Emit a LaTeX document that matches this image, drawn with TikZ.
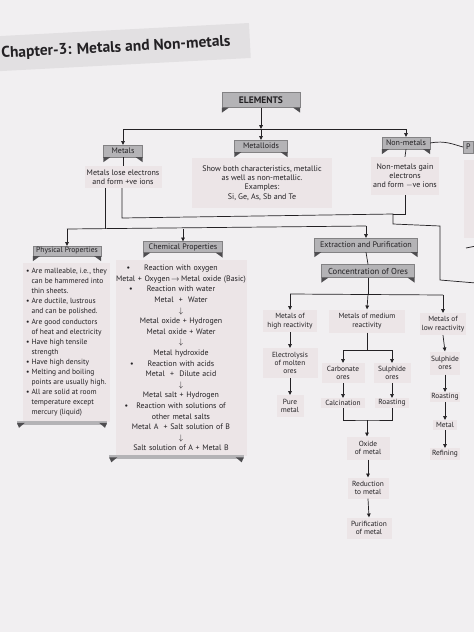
\documentclass[tikz,border=0pt]{standalone}
\usepackage{fontspec}
\setmainfont{PT Sans}
\usetikzlibrary{arrows.meta,calc}
\definecolor{pagebg}{RGB}{241,239,241}
\definecolor{bandbg}{RGB}{226,224,226}
\definecolor{bannerfill}{RGB}{180,179,182}
\definecolor{bannerdark}{RGB}{78,77,80}
\definecolor{descfill}{RGB}{236,229,231}
\definecolor{ink}{RGB}{35,33,36}
\newcommand\ribbon[1]{%
  \fill[bannerdark] (#1.south west) -- ++(7,0) -- ++(-7,5) -- cycle;
  \fill[bannerdark] (#1.south east) -- ++(-7,0) -- ++(7,5) -- cycle;}
\newcommand\scrollbar[1]{%
  \fill[bannerfill] ($(#1.south west)+(-6,-1)$) rectangle ($(#1.south east)+(-3,3)$);
  \fill[bannerdark] ($(#1.south west)+(-6,1)$) -- ++(8,0) -- ++(-6,5) -- cycle;
  \fill[bannerdark] ($(#1.south east)+(-3,1)$) -- ++(-8,0) -- ++(6,5) -- cycle;}
\newcommand\bul[1]{\leavevmode\llap{\textbullet\hspace{#1}}}
\begin{document}
\begin{tikzpicture}[x=1pt,y=-1pt,
  every node/.style={text=ink},
  banner/.style={fill=bannerfill, draw=bannerdark!70, line width=0.4pt, inner xsep=3pt, inner ysep=1.5pt, font=\fontsize{8}{9}\selectfont},
  desc/.style={fill=descfill, align=center, inner sep=2pt, font=\fontsize{8}{9.4}\selectfont},
  small/.style={fill=descfill, align=center, inner sep=1.5pt, font=\fontsize{7.4}{8.4}\selectfont},
  conn/.style={draw=ink, line width=0.7pt},
  arr/.style={conn, -{Triangle[length=3.8pt,width=3.6pt]}},
]
\useasboundingbox (0,0) rectangle (474,632);
\fill[pagebg] (0,0) rectangle (474,632);
% title
\fill[bandbg, rotate around={3:(116,47)}] (-10,30) rectangle (250,65);
\node[font=\bfseries\fontsize{15.5}{17}\selectfont, rotate=3] (title) at (116,48) {Chapter-3: Metals and Non-metals};

% level 0/1
\node[banner, font=\bfseries\fontsize{9.5}{11}\selectfont, minimum width=78, minimum height=15] (elem) at (261,100) {ELEMENTS};
\ribbon{elem}
\node[banner, minimum width=39, minimum height=12] (metals) at (123,151) {Metals};
\ribbon{metals}
\node[banner, minimum width=53, minimum height=12] (metalloids) at (261,146) {Metalloids};
\ribbon{metalloids}
\node[banner, minimum width=48, minimum height=12] (nonmetals) at (406,143) {Non-metals};
\ribbon{nonmetals}

\node[desc, minimum width=77, minimum height=22] (metalsd) at (123,177) {Metals lose electrons\\and form +ve ions};
\node[desc, minimum width=140, minimum height=50] (metalloidsd) at (262,183) {Show both characteristics, metallic\\as well as non-metallic.\\Examples:\\Si, Ge, As, Sb and Te};
\node[desc, minimum width=68, minimum height=38] (nonmetalsd) at (405,176) {Non-metals gain\\electrons\\and form $-$ve ions};

\coordinate (jtop) at (261,129);
\draw[arr] (elem.south) -- (jtop);
\draw[arr] (jtop) -- (metalloids.north);
\draw[arr] (jtop) -| (metals.north);
\draw[arr] (jtop) -| (nonmetals.north);
\draw[conn] (metals.south) -- (metalsd.north);
\draw[conn] (nonmetals.south) -- (nonmetalsd.north);

% next page fragments
\fill[descfill] (464,160) rectangle (476,238);
\node[banner, anchor=west, inner xsep=3pt, minimum height=12] (pbox) at (463,147) {P};
\draw[conn] (nonmetals.east) .. controls (445,140) and (455,145) .. (pbox.west);
\coordinate (s1) at (466,248);
\coordinate (s2) at (476,246);
\draw[conn] (s1) -- (s2);

% links below level 1
\coordinate (ml) at (105,229);
\coordinate (hl) at (67,229);
\coordinate (hr) at (366,226);
\draw[conn] (metalsd.south -| ml) -- (ml);
\draw[conn] (hl) -- (hr);
\coordinate (r1) at (122,218);
\coordinate (r2) at (393,214);
\coordinate (r3) at (393,224);
\coordinate (r4) at (440,226);
\coordinate (r5) at (440,280);
\coordinate (r6) at (476,283);
\draw[conn] (metalsd.south -| r1) -- (r1) -- (r2) -- (r3) -- (r4) -- (r5) -- (r6);
\draw[conn] (nonmetalsd.south) -- (nonmetalsd.south |- r2) -- (r2);

% level 2
\node[banner, font=\fontsize{7.6}{8.6}\selectfont, minimum width=68, minimum height=10, inner ysep=1pt] (phys) at (67,251) {Physical Properties};
\ribbon{phys}
\node[banner, font=\fontsize{8}{9}\selectfont, minimum width=79, minimum height=11, inner ysep=1pt] (chem) at (183,247) {Chemical Properties};
\ribbon{chem}
\node[banner, font=\fontsize{8.1}{9}\selectfont, minimum width=103, minimum height=14] (extr) at (366,245) {Extraction and Purification};
\ribbon{extr}
\node[banner, font=\fontsize{8.6}{9.6}\selectfont, minimum width=93, minimum height=13] (conc) at (368,271) {Concentration of Ores};
\ribbon{conc}
\draw[arr] (hl) -- (phys.north);
\draw[arr] (chem.north |- hl) -- (chem.north);
\draw[arr] (hr) -- (extr.north);
\draw[conn] (extr.south) -- (conc.north);

\node[desc, anchor=north west, align=left, minimum width=85, inner xsep=3pt, inner ysep=5pt, font=\fontsize{7.5}{10.1}\selectfont] (physd) at (23,263) {%
\textbullet\ Are malleable, i.e., they\\
\hphantom{\textbullet\ }can be hammered into\\
\hphantom{\textbullet\ }thin sheets.\\
\textbullet\ Are ductile, lustrous\\
\hphantom{\textbullet\ }and can be polished.\\
\textbullet\ Are good conductors\\
\hphantom{\textbullet\ }of heat and electricity\\
\textbullet\ Have high tensile\\
\hphantom{\textbullet\ }strength\\
\textbullet\ Have high density\\
\textbullet\ Melting and boiling\\
\hphantom{\textbullet\ }points are usually high.\\
\textbullet\ All are solid at room\\
\hphantom{\textbullet\ }temperature except\\
\hphantom{\textbullet\ }mercury (liquid)};
\scrollbar{physd}

\node[desc, anchor=north, text width=129, inner xsep=1pt, inner ysep=5pt, font=\fontsize{7.9}{10.6}\selectfont] (chemd) at (181,260) {%
\bul{14pt}Reaction with oxygen\\
\makebox[0pt][c]{Metal + Oxygen\,$\rightarrow$\,Metal oxide (Basic)}\\
\bul{14pt}Reaction with water\\
Metal\ \ +\ \ Water\\
$\downarrow$\\
Metal oxide + Hydrogen\\
Metal oxide + Water\\
$\downarrow$\\
Metal hydroxide\\
\bul{14pt}Reaction with acids\\
Metal\ \ +\ \ Dilute acid\\
$\downarrow$\\
Metal salt + Hydrogen\\
\bul{8pt}Reaction with solutions of\\
other metal salts\\
Metal A\ \ + Salt solution of B\\
$\downarrow$\\
Salt solution of A + Metal B};
\scrollbar{chemd}

% extraction tree
\coordinate (cj) at (368,294);
\coordinate (cl) at (290,294);
\coordinate (cr) at (443,295);
\draw[conn] (conc.south) -- (cj);
\draw[conn] (cl) -- (cr);

\node[small, minimum width=54, minimum height=22] (high) at (290,321) {Metals of\\high reactivity};
\node[small, minimum width=76, minimum height=23] (med) at (367,321) {Metals of medium\\reactivity};
\node[small, minimum width=43, minimum height=22] (low) at (443,324) {Metals of\\low reactivity};
\draw[arr] (cl) -- (high.north);
\draw[arr] (cj) -- (med.north);
\draw[arr] (cr) -- (low.north);

\node[small, minimum width=55, minimum height=30] (elec) at (290,363) {Electrolysis\\of molten\\ores};
\node[small, minimum width=27, minimum height=22] (pure) at (290,406) {Pure\\metal};
\draw[arr] (high.south) -- (elec.north);
\draw[arr] (elec.south) -- (pure.north);

\coordinate (mj) at (367,350);
\coordinate (mjl) at (343,350);
\coordinate (mjr) at (392,350);
\draw[conn] (med.south) -- (mj);
\draw[conn] (mjl) -- (mjr);
\node[small, minimum width=43, minimum height=20] (carb) at (343,373) {Carbonate\\ores};
\node[small, minimum width=37, minimum height=20] (sulph) at (392,373) {Sulphide\\ores};
\draw[arr] (mjl) -- (carb.north);
\draw[arr] (mjr) -- (sulph.north);
\node[small, minimum width=44, minimum height=10] (calc) at (343,403) {Calcination};
\node[small, minimum width=34, minimum height=10] (roast) at (392,403) {Roasting};
\draw[arr] (carb.south) -- (calc.north);
\draw[arr] (sulph.south) -- (roast.north);
\coordinate (bj) at (367,420);
\draw[conn] (calc.south) |- (bj) -| (roast.south);
\node[small, minimum width=43, minimum height=23] (oxide) at (368,448) {Oxide\\of metal};
\node[small, minimum width=41, minimum height=21] (reduc) at (368,488) {Reduction\\to metal};
\node[small, minimum width=45, minimum height=21] (purif) at (369,528) {Purification\\of metal};
\draw[arr] (bj) -- (oxide.north -| bj);
\draw[arr] (oxide.south) -- (reduc.north);
\draw[arr] (reduc.south) -- (purif.north);

\node[small, minimum width=25, minimum height=23] (lsulph) at (445,363) {Sulphide\\ores};
\node[small, minimum width=28, minimum height=10] (lroast) at (445,397) {Roasting};
\node[small, minimum width=24, minimum height=10] (lmetal) at (445,425) {Metal};
\node[small, minimum width=30, minimum height=12] (lref) at (445,454) {Refining};
\draw[arr] (low.south) -- (lsulph.north);
\draw[arr] (lsulph.south) -- (lroast.north);
\draw[arr] (lroast.south) -- (lmetal.north);
\draw[arr] (lmetal.south) -- (lref.north);
\end{tikzpicture}
\end{document}
